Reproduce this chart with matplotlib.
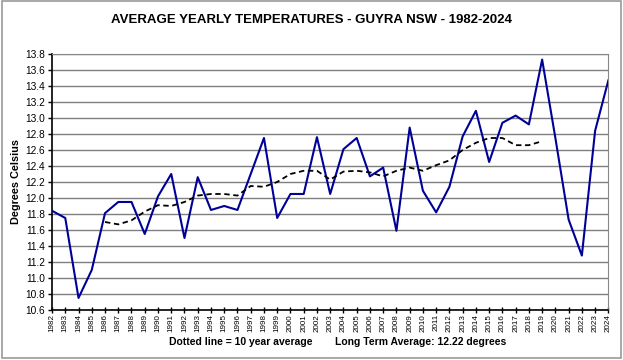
import matplotlib
matplotlib.use("Agg")
import matplotlib.pyplot as plt
from matplotlib.patches import Rectangle

years = list(range(1982, 2025))
temps = [11.84, 11.75, 10.75, 11.10, 11.81, 11.95, 11.95, 11.55, 12.02, 12.30,
         11.50, 12.26, 11.85, 11.90, 11.85, 12.30, 12.75, 11.75, 12.05, 12.05,
         12.76, 12.05, 12.61, 12.75, 12.27, 12.38, 11.59, 12.88, 12.09, 11.82,
         12.14, 12.77, 13.09, 12.45, 12.94, 13.03, 12.92, 13.73, 12.75, 11.73,
         11.28, 12.84, 13.47]

avg_years = list(range(1986, 2020))
avg10 = [11.70, 11.67, 11.72, 11.83, 11.91, 11.90, 11.95, 12.03, 12.05, 12.05,
         12.03, 12.15, 12.14, 12.20, 12.30, 12.34, 12.34, 12.23, 12.33, 12.34,
         12.32, 12.27, 12.34, 12.38, 12.34, 12.41, 12.47, 12.60, 12.69, 12.75,
         12.75, 12.66, 12.66, 12.71]

font = "Liberation Sans"
plt.rcParams["font.family"] = [font, "DejaVu Sans"]

fig = plt.figure(figsize=(6.23, 3.6), dpi=100)
fig.patches.append(Rectangle((0.003, 0.006), 0.994, 0.99, transform=fig.transFigure,
                             fill=False, edgecolor="#999999", lw=1.2))
ax = fig.add_axes([0.0835, 0.139, 0.893, 0.711])

ax.plot(years, temps, color="#000099", lw=1.5, zorder=3)
ax.plot(avg_years, avg10, color="black", lw=1.3, ls=(0, (3, 2)), zorder=3)

ax.set_xlim(1982, 2024)
ax.set_ylim(10.6, 13.8)
ax.set_yticks([10.6 + 0.2 * i for i in range(17)])
ax.set_yticklabels([f"{10.6 + 0.2 * i:.1f}" for i in range(17)], fontsize=7.3)
ax.set_xticks(years)
ax.set_xticklabels([str(y) for y in years], rotation=90, fontsize=5.8)
ax.tick_params(axis="x", direction="inout", length=4, width=1, pad=1)
ax.tick_params(axis="y", direction="out", length=3, width=1, pad=2)
ax.grid(axis="y", color="#7f7f7f", lw=1)
ax.set_axisbelow(True)
for s in ["top", "right"]:
    ax.spines[s].set_color("#888888")
for s in ["left", "bottom"]:
    ax.spines[s].set_color("black")
    ax.spines[s].set_linewidth(1.2)

ax.set_ylabel("Degrees Celsius", fontsize=7.8, fontweight="bold", labelpad=3)
fig.text(0.5, 0.945, "AVERAGE YEARLY TEMPERATURES - GUYRA NSW - 1982-2024",
         ha="center", va="center", fontsize=9.5, fontweight="bold")
fig.text(0.387, 0.05, "Dotted line = 10 year average", ha="center", va="center",
         fontsize=7.5, fontweight="bold")
fig.text(0.675, 0.05, "Long Term Average: 12.22 degrees", ha="center", va="center",
         fontsize=7.5, fontweight="bold")

fig.savefig("out.png", dpi=100)
